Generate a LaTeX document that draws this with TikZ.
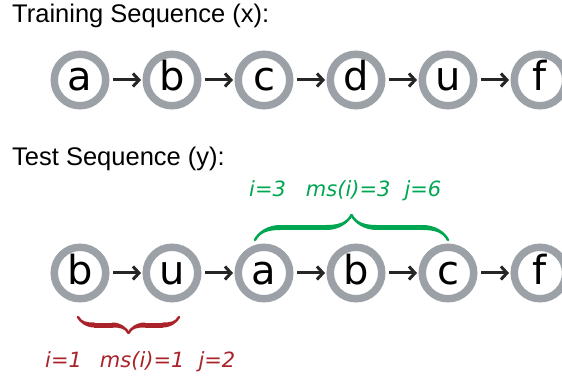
\documentclass[tikz,border=0pt]{standalone}
\usepackage{fontspec}
\setmainfont{Liberation Sans}
\newfontfamily\symfont{DejaVu Sans}
\usetikzlibrary{positioning,arrows.meta,decorations.pathreplacing,calligraphy}
\definecolor{ringgray}{RGB}{156,161,167}
\definecolor{msgreen}{RGB}{0,166,81}
\definecolor{msred}{RGB}{170,35,42}

\begin{document}
\begin{tikzpicture}[
  x=1pt, y=-1pt,
  >={Straight Barb[length=6pt,width=13pt]},
  node distance=92pt,
  on grid,
  sym/.style={circle, draw=ringgray, line width=7.5pt, minimum size=51.5pt,
    inner sep=0pt, text height=22pt, text depth=0pt,
    font=\symfont\fontsize{40}{40}\selectfont},
  title/.style={anchor=base west, inner sep=0pt, font=\fontsize{25.5}{30}\selectfont},
  link/.style={->, draw=black!85, line width=3pt, shorten <=3.5pt, shorten >=1.5pt},
  match/.style={decorate, line width=5pt},
  stat/.style={anchor=base west, inner sep=0pt,
    font=\symfont\itshape\fontsize{21}{24}\selectfont}
]
  \useasboundingbox (0,0) rectangle (562,379);

  % training sequence x
  \node[title] (train) at (12,23) {Training Sequence (x):};
  \node[sym] (x1) at (80,80) {a};
  \node[sym,right=of x1] (x2) {b};
  \node[sym,right=of x2] (x3) {c};
  \node[sym,right=of x3] (x4) {d};
  \node[sym,right=of x4] (x5) {u};
  \node[sym,right=of x5] (x6) {f};

  % test sequence y
  \node[title] (test) at (12,166) {Test Sequence (y):};
  \node[sym] (y1) at (80,273) {b};
  \node[sym,right=of y1] (y2) {u};
  \node[sym,right=of y2] (y3) {a};
  \node[sym,right=of y3] (y4) {b};
  \node[sym,right=of y4] (y5) {c};
  \node[sym,right=of y5] (y6) {f};

  \path[link]
    (x1) edge (x2) (x2) edge (x3) (x3) edge (x4)
    (x4) edge (x5) (x5) edge (x6)
    (y1) edge (y2) (y2) edge (y3) (y3) edge (y4)
    (y4) edge (y5) (y5) edge (y6);

  % matching stretches
  \coordinate (gl) at (255,240);
  \coordinate (gr) at (448,240);
  \draw[match, msgreen, pen colour={msgreen},
    decoration={calligraphic brace, amplitude=25pt}] (gl) -- (gr);
  \node[stat, text=msgreen] (gstat) at (249,197)
    {i=3\hspace{20pt}ms(i)=3\hspace{14pt}j=6};

  \coordinate (rl) at (78,317);
  \coordinate (rr) at (179,317);
  \draw[match, msred, pen colour={msred},
    decoration={calligraphic brace, amplitude=16pt}] (rr) -- (rl);
  \node[stat, text=msred] (rstat) at (45,367)
    {i=1\hspace{18pt}ms(i)=1\hspace{14pt}j=2};
\end{tikzpicture}
\end{document}
